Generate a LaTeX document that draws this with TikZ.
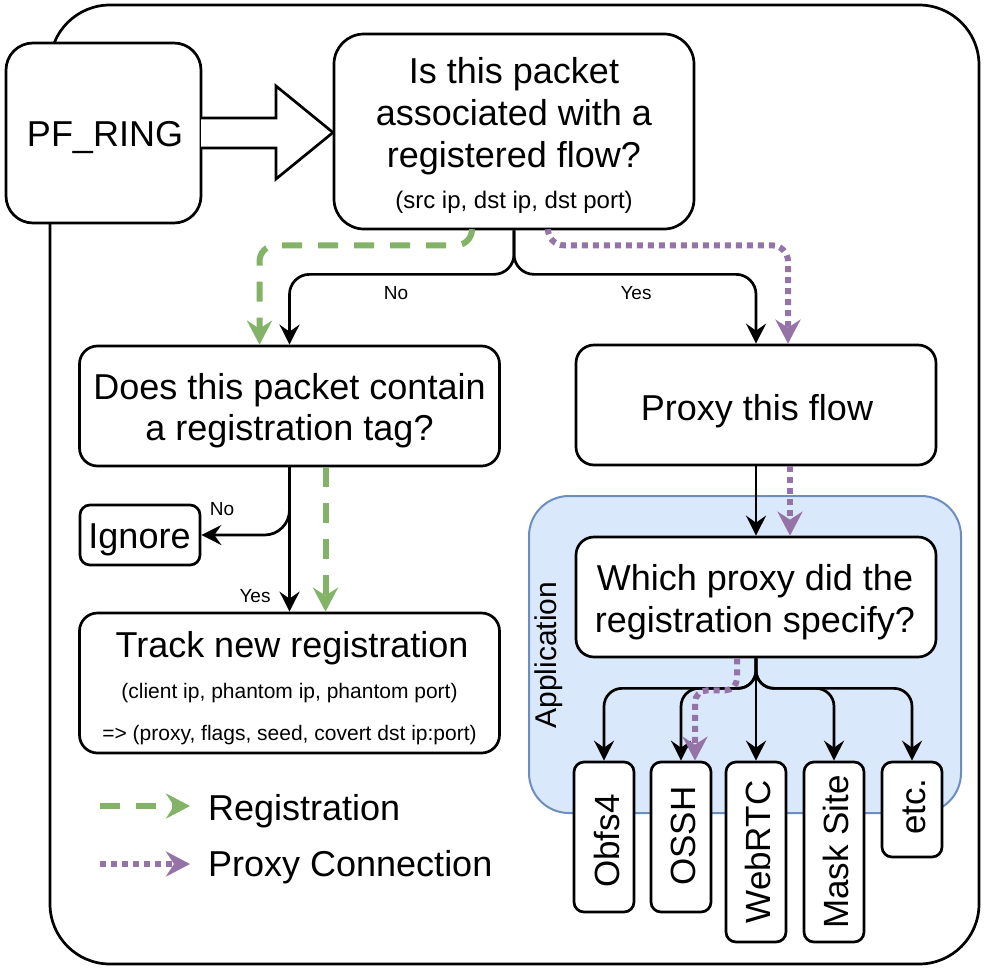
\documentclass[tikz,border=0pt]{standalone}
\usepackage{fontspec}
\setmainfont{Liberation Sans}
\usetikzlibrary{arrows.meta}
\definecolor{reggreen}{HTML}{82B366}
\definecolor{proxpurple}{HTML}{9673A6}
\definecolor{appfill}{HTML}{DAE8FC}
\definecolor{appstroke}{HTML}{6C8EBF}
\begin{document}
\begin{tikzpicture}[x=1pt,y=-1pt,
  box/.style={draw=black, line width=2.7pt, fill=white, rounded corners=#1, inner sep=0pt},
  box/.default=18pt,
  big/.style={font=\fontsize{36}{42}\selectfont, inner sep=0pt, anchor=base},
  small/.style={font=\fontsize{21}{25}\selectfont, inner sep=0pt, anchor=base},
  lbl/.style={font=\fontsize{19}{22}\selectfont, inner sep=0pt},
  vlabel/.style={font=\fontsize{35}{42}\selectfont, inner sep=0pt, rotate=90},
  blk/.style={draw=black, line width=2.7pt, -{Stealth[length=20pt,width=20pt,inset=7pt]}},
  reg/.style={draw=reggreen, line width=6pt, dash pattern=on 20pt off 16pt,
     -{Stealth[length=24pt,width=25pt,inset=8pt]}},
  prx/.style={draw=proxpurple, line width=6pt, dash pattern=on 6pt off 5pt,
     -{Stealth[length=24pt,width=25pt,inset=8pt]}}
]
\useasboundingbox (0,0) rectangle (984,969);

% outer container
\node[box=60pt, minimum width=929pt, minimum height=959pt] (outer) at (514.5,484.5) {};

% application container
\node[draw=appstroke, line width=2pt, fill=appfill, rounded corners=40pt, inner sep=0pt,
      minimum width=432pt, minimum height=317pt] (app) at (745,654.5) {};
\node[font=\fontsize{30}{36}\selectfont, inner sep=0pt, rotate=90] (applbl) at (549,655) {Application};

% PF_RING
\node[box=27pt, minimum width=195pt, minimum height=180pt] (pf) at (103.5,133) {};
\node[font=\fontsize{36}{42}\selectfont, inner sep=0pt, anchor=base] (pft) at (105,146) {PF\_RING};

% big arrow
\draw[line width=2.7pt, fill=white, line join=miter] (201,118) -- (276,118) -- (276,86) -- (333,132.5) -- (276,179) -- (276,148) -- (201,148);

% Q1
\node[box=30pt, minimum width=360pt, minimum height=195pt] (q1) at (514,131.5) {};
\node[big] (q1a) at (514,83) {Is this packet};
\node[big] (q1b) at (514,125) {associated with a};
\node[big] (q1c) at (514,167) {registered flow?};
\node[small, font=\fontsize{24}{28}\selectfont] (q1d) at (514,208) {(src ip, dst ip, dst port)};

% Q2
\node[box, minimum width=420pt, minimum height=120pt] (q2) at (289.5,406) {};
\node[big] (q2a) at (289.5,399) {Does this packet contain};
\node[big] (q2b) at (289.5,440) {a registration tag?};

% Proxy
\node[box, minimum width=360pt, minimum height=120pt] (proxy) at (756,405) {};
\node[big] (proxyt) at (757,420) {Proxy this flow};

% Ignore
\node[box=10pt, minimum width=120pt, minimum height=60pt] (ignore) at (140,535) {};
\node[big] (ignoret) at (139.5,548) {Ignore};

% Track
\node[box, minimum width=420pt, minimum height=140pt] (track) at (289.5,683) {};
\node[big] (tracka) at (292,657) {Track new registration};
\node[small] (trackb) at (289.5,698) {(client ip, phantom ip, phantom port)};
\node[small] (trackc) at (289.5,740) {=> (proxy, flags, seed, covert dst ip:port)};

% Which
\node[box, minimum width=360pt, minimum height=120pt] (which) at (756,597) {};
\node[big] (whicha) at (755,590) {Which proxy did the};
\node[big] (whichb) at (755,632) {registration specify?};

% proxy option boxes
\node[box=10pt, minimum width=60pt, minimum height=150pt] (obfs) at (604,837) {};
\node[box=10pt, minimum width=60pt, minimum height=150pt] (ossh) at (681,837) {};
\node[box=10pt, minimum width=60pt, minimum height=180pt] (webrtc) at (756,852) {};
\node[box=10pt, minimum width=60pt, minimum height=180pt] (mask) at (834,852) {};
\node[box=10pt, minimum width=60pt, minimum height=95pt] (etc) at (912,809.5) {};
\node[vlabel] (obfst) at (607,841) {Obfs4};
\node[vlabel] (ossht) at (683,836) {OSSH};
\node[vlabel] (webrtct) at (758,852) {WebRTC};
\node[vlabel] (maskt) at (836,852) {Mask Site};
\node[vlabel] (etct) at (914,806.5) {etc.};

% black connectors
\draw[blk, rounded corners=20pt] (q1.south) -- ++(0,44) -| (q2.north);
\draw[blk, rounded corners=20pt] (q1.south) -- ++(0,44) -| (proxy.north);
\node[lbl] (lno1) at (396,293) {No};
\node[lbl] (lyes1) at (636,293) {Yes};

\draw[blk] (q2.south) -- (track.north);
\draw[blk, rounded corners=25pt] (q2.south) |- (ignore.east);
\node[lbl] (lno2) at (222,509) {No};
\node[lbl] (lyes2) at (255,596) {Yes};

\draw[blk] (proxy.south) -- (which.north);

\draw[blk, rounded corners=18pt] (which.south) -- ++(0,30) -| (obfs.north);
\draw[blk, rounded corners=18pt] (which.south) -- ++(0,30) -| (ossh.north);
\draw[blk] (which.south) -- (webrtc.north);
\draw[blk, rounded corners=18pt] (which.south) -- ++(0,30) -| (mask.north);
\draw[blk, rounded corners=18pt] (which.south) -- ++(0,30) -| (etc.north);

% registration (green dashed)
\draw[reg, rounded corners=16pt] ([xshift=-42pt]q1.south) -- ++(0,15) -| ([xshift=-30pt]q2.north);
\draw[reg] ([xshift=36pt]q2.south) -- ([xshift=36pt]track.north);

% proxy connection (purple dotted)
\draw[prx, rounded corners=16pt] ([xshift=34pt]q1.south) -- ++(0,15) -| ([xshift=32pt]proxy.north);
\draw[prx] ([xshift=34pt]proxy.south) -- ([xshift=34pt]which.north);
\draw[prx, rounded corners=12pt] ([xshift=-19pt]which.south) -- ++(0,32) -| ([xshift=14pt]ossh.north);

% legend
\coordinate (lgra) at (100,806);
\coordinate (lgrb) at (190,806);
\coordinate (lgpa) at (100,864);
\coordinate (lgpb) at (190,864);
\draw[reg] (lgra) -- (lgrb);
\draw[prx] (lgpa) -- (lgpb);
\node[big, anchor=base west] (lgrt) at (208,820) {Registration};
\node[big, anchor=base west] (lgpt) at (208,876) {Proxy Connection};
\end{tikzpicture}
\end{document}
